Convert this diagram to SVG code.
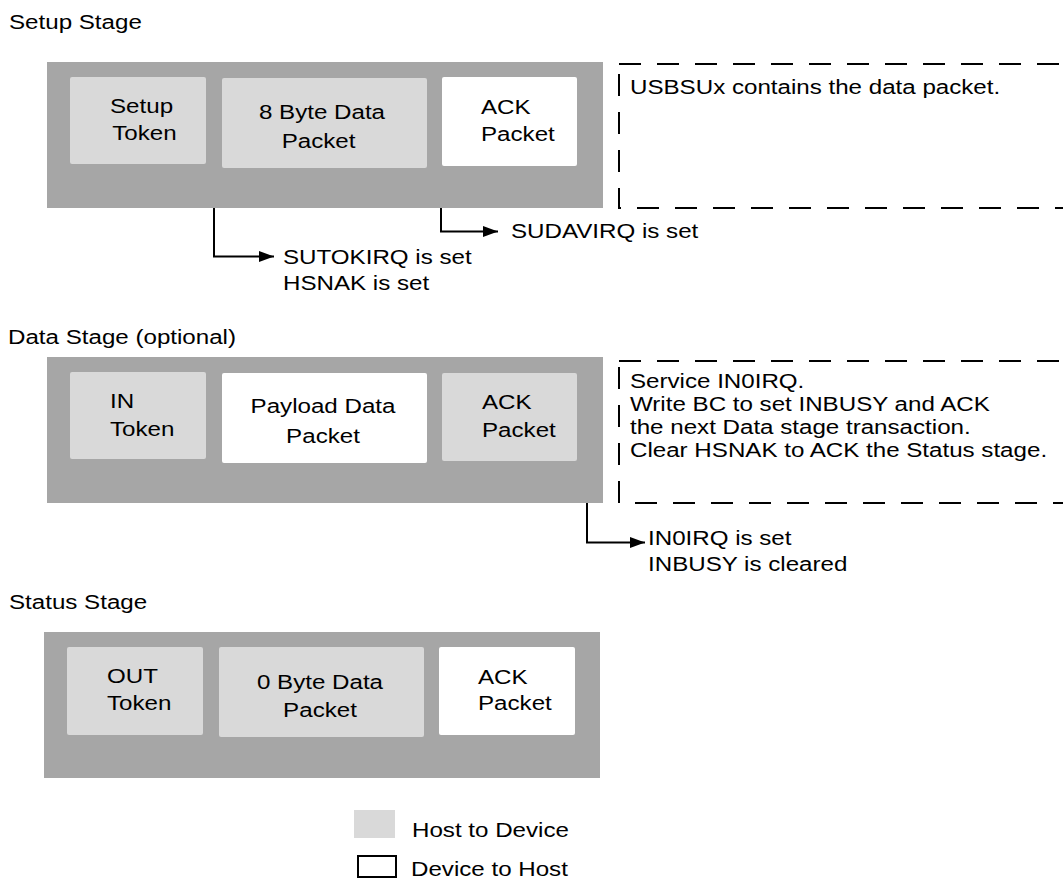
<svg xmlns="http://www.w3.org/2000/svg" width="1063" height="879" viewBox="0 0 1063 879">
<style>
.t{font-family:"Liberation Sans",Arial,sans-serif;font-size:21px;fill:#000}
.m{text-anchor:middle}
.stage{fill:#a6a6a6}
.h2d{fill:#d9d9d9}
.d2h{fill:#ffffff}
.note{fill:none;stroke:#000;stroke-width:2;stroke-dasharray:22 16}
.conn{fill:none;stroke:#000;stroke-width:2}
</style>
<defs>
<marker id="arr" markerUnits="userSpaceOnUse" markerWidth="16" markerHeight="12" refX="15" refY="5.5" orient="auto">
<path d="M0,0 L15,5.5 L0,11 z" fill="#000"/>
</marker>
</defs>
<rect width="1063" height="879" fill="#fff"/>

<text class="t" transform="translate(9,29) scale(1.15,1)">Setup Stage</text>
<text class="t" transform="translate(8,344) scale(1.15,1)">Data Stage (optional)</text>
<text class="t" transform="translate(9,609) scale(1.15,1)">Status Stage</text>

<g id="setup-stage">
<rect class="stage" x="47" y="62" width="556" height="146"/>
<g id="setup-token">
<rect class="h2d" x="70" y="77" width="136" height="87" rx="2"/>
<text class="t" transform="translate(110,113) scale(1.15,1)"><tspan x="0">Setup</tspan><tspan x="2" dy="27">Token</tspan></text>
</g>
<g id="setup-data">
<rect class="h2d" x="222" y="78" width="205" height="90" rx="2"/>
<text class="t m" transform="translate(322,119) scale(1.15,1)"><tspan x="0">8 Byte Data</tspan><tspan x="-3" dy="29">Packet</tspan></text>
</g>
<g id="setup-ack">
<rect class="d2h" x="442" y="77" width="135" height="89" rx="2"/>
<text class="t" transform="translate(481,114) scale(1.15,1)"><tspan x="0">ACK</tspan><tspan x="0" dy="27">Packet</tspan></text>
</g>
</g>
<g id="setup-note">
<rect class="note" x="619" y="64" width="480" height="144"/>
<text class="t" transform="translate(630,94) scale(1.15,1)">USBSUx contains the data packet.</text>
</g>

<g id="data-stage">
<rect class="stage" x="47" y="357" width="556" height="146"/>
<g id="in-token">
<rect class="h2d" x="70" y="372" width="136" height="87" rx="2"/>
<text class="t" transform="translate(110,408) scale(1.15,1)"><tspan x="0">IN</tspan><tspan x="0" dy="28">Token</tspan></text>
</g>
<g id="payload-data">
<rect class="d2h" x="222" y="373" width="205" height="90" rx="2"/>
<text class="t m" transform="translate(323,413) scale(1.15,1)"><tspan x="0">Payload Data</tspan><tspan x="0" dy="30">Packet</tspan></text>
</g>
<g id="data-ack">
<rect class="h2d" x="442" y="373" width="135" height="88" rx="2"/>
<text class="t" transform="translate(482,409) scale(1.15,1)"><tspan x="0">ACK</tspan><tspan x="0" dy="28">Packet</tspan></text>
</g>
</g>
<g id="data-note">
<rect class="note" x="619" y="361" width="480" height="142"/>
<text class="t" transform="translate(630,388) scale(1.15,1)"><tspan x="0">Service IN0IRQ.</tspan><tspan x="0" dy="23">Write BC to set INBUSY and ACK</tspan><tspan x="0" dy="23">the next Data stage transaction.</tspan><tspan x="0" dy="23">Clear HSNAK to ACK the Status stage.</tspan></text>
</g>

<g id="status-stage">
<rect class="stage" x="44" y="632" width="556" height="146"/>
<g id="out-token">
<rect class="h2d" x="67" y="647" width="136" height="88" rx="2"/>
<text class="t" transform="translate(107,683) scale(1.15,1)"><tspan x="0">OUT</tspan><tspan x="0" dy="27">Token</tspan></text>
</g>
<g id="zero-data">
<rect class="h2d" x="219" y="647" width="205" height="90" rx="2"/>
<text class="t m" transform="translate(320,689) scale(1.15,1)"><tspan x="0">0 Byte Data</tspan><tspan x="0" dy="28">Packet</tspan></text>
</g>
<g id="status-ack">
<rect class="d2h" x="439" y="647" width="136" height="88" rx="2"/>
<text class="t" transform="translate(478,684) scale(1.15,1)"><tspan x="0">ACK</tspan><tspan x="0" dy="26">Packet</tspan></text>
</g>
</g>

<g id="connectors">
<path class="conn" d="M214,208 V256.5 H274" marker-end="url(#arr)"/>
<path class="conn" d="M441,208 V231.5 H498" marker-end="url(#arr)"/>
<path class="conn" d="M587,503 V542.5 H645" marker-end="url(#arr)"/>
</g>

<g id="labels">
<text class="t" transform="translate(283,264) scale(1.15,1)"><tspan x="0">SUTOKIRQ is set</tspan><tspan x="0" dy="26.5">HSNAK is set</tspan></text>
<text class="t" transform="translate(511,237.5) scale(1.15,1)">SUDAVIRQ is set</text>
<text class="t" transform="translate(648,545) scale(1.15,1)"><tspan x="0">IN0IRQ is set</tspan><tspan x="0" dy="26">INBUSY is cleared</tspan></text>
</g>

<g id="legend">
<rect class="h2d" x="354" y="810" width="41" height="28"/>
<text class="t" transform="translate(412,837) scale(1.15,1)">Host to Device</text>
<rect x="358" y="856" width="38" height="21" fill="#fff" stroke="#000" stroke-width="2"/>
<text class="t" transform="translate(411,876) scale(1.15,1)">Device to Host</text>
</g>
</svg>
